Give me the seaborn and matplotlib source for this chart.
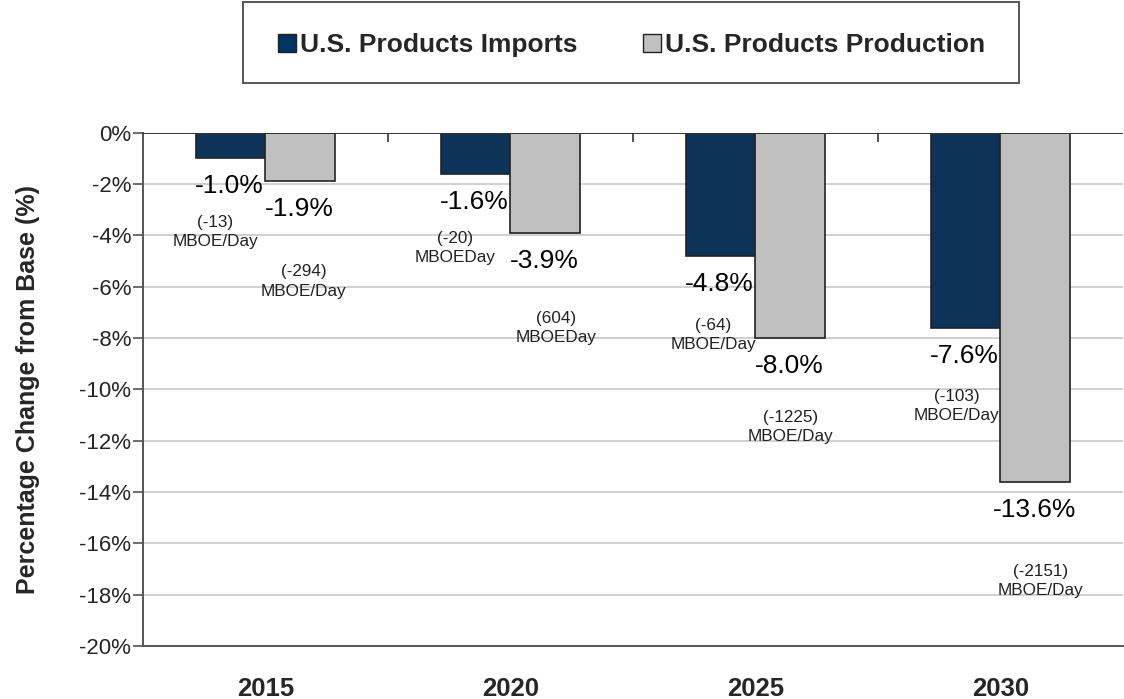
import matplotlib.pyplot as plt
import numpy as np
import pandas as pd
import seaborn as sns
from matplotlib.patches import Patch, Rectangle

years = ["2015", "2020", "2025", "2030"]
series = ["U.S. Products Imports", "U.S. Products Production"]
imports_pct = [-1.0, -1.6, -4.8, -7.6]
production_pct = [-1.9, -3.9, -8.0, -13.6]
imports_mboe = ["(-13)\nMBOE/Day", "(-20)\nMBOEDay", "(-64)\nMBOE/Day", "(-103)\nMBOE/Day"]
production_mboe = ["(-294)\nMBOE/Day", "(604)\nMBOEDay", "(-1225)\nMBOE/Day", "(-2151)\nMBOE/Day"]
y_ticks = list(range(0, -21, -2))

colors = ["#003366", "#C0C0C0"]

# label placement (pixels from the bar end), one per bar
mboe_offsets = [
    [(-15, -74), (-20, -74), (-7, -79), (-9, -78)],
    [(3, -100), (11, -95), (0, -89), (5, -99)],
]

sns.set_theme(style="white")
plt.rcParams["font.family"] = ["Liberation Sans", "DejaVu Sans"]

df = pd.DataFrame({
    "year": years * 2,
    "series": [series[0]] * len(years) + [series[1]] * len(years),
    "value": imports_pct + production_pct,
})

fig = plt.figure(figsize=(11.24, 6.99), dpi=100)
ax = fig.add_axes([0.1272, 0.0758, 0.8718, 0.7344])

for y in y_ticks[1:]:
    ax.axhline(y, color="#C8C8C8", lw=1.2, zorder=0)

sns.barplot(data=df, x="year", y="value", hue="series", palette=colors,
            width=0.57, edgecolor="#222222", linewidth=1.2, legend=False,
            ax=ax, zorder=2)

ax.set_ylim(-20, 0)
ax.set_xlim(-0.5, len(years) - 0.5)
ax.set_yticks(y_ticks)
ax.set_yticklabels([f"{t}%" for t in y_ticks], fontsize=16)
ax.tick_params(axis="y", length=7, width=1.2, color="#555555", pad=1.5, left=True)
ax.tick_params(axis="x", length=0, pad=22)
for lab in ax.get_xticklabels():
    lab.set_fontsize(18.5)
    lab.set_fontweight("bold")
ax.set_xlabel("")
ax.set_ylabel("Percentage Change from Base (%)", fontsize=18, fontweight="bold", labelpad=28)

for side in ["top", "right"]:
    ax.spines[side].set_visible(False)
for side in ["left", "bottom"]:
    ax.spines[side].set_color("#555555")
    ax.spines[side].set_linewidth(1.4)
ax.axhline(0, color="#333333", lw=1.4, zorder=3)
ax.vlines(np.arange(len(years) - 1) + 0.5, -0.35, 0, color="#333333", lw=1.2, zorder=3)

pct_series = [imports_pct, production_pct]
mboe_series = [imports_mboe, production_mboe]
for k, container in enumerate(ax.containers):
    for i, bar in enumerate(container):
        xc = bar.get_x() + bar.get_width() / 2
        val = pct_series[k][i]
        ax.annotate(f"{val:.1f}%", (xc, val), xytext=(-1, -28), textcoords="offset pixels",
                    ha="center", va="center", fontsize=19, color="black", zorder=4)
        dx, dy = mboe_offsets[k][i]
        ax.annotate(mboe_series[k][i], (xc, val), xytext=(dx, dy), textcoords="offset pixels",
                    ha="center", va="center", fontsize=12.3, color="#222222",
                    linespacing=1.35, zorder=4)

# legend box
fig.patches.append(Rectangle((0.2162, 0.8813), 0.6900, 0.1159, transform=fig.transFigure,
                             facecolor="white", edgecolor="#555555", lw=1.4))
handles = [Patch(facecolor=c, edgecolor="#222222", lw=1.0) for c in colors]
fig.legend(handles, series, loc="center", bbox_to_anchor=(0.5618, 0.9356), ncol=2,
           frameon=False, prop={"size": 19, "weight": "bold"}, handlelength=0.68,
           handleheight=0.68, handletextpad=0.15, columnspacing=2.5)

fig.savefig("out.png", dpi=100)
